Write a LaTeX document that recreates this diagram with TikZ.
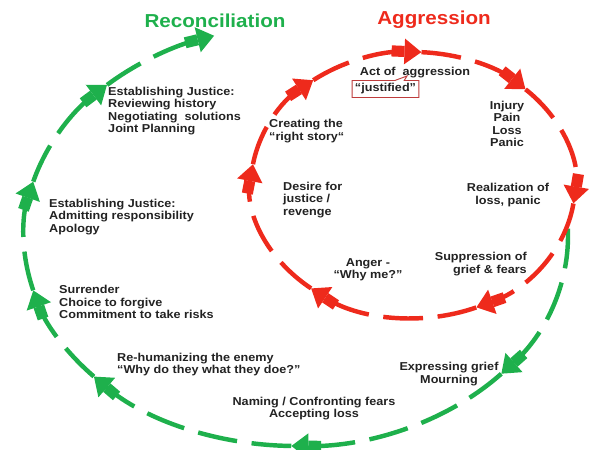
\documentclass[tikz,border=0pt]{standalone}
\usepackage{fontspec}
\setmainfont{Liberation Sans}[FakeStretch=1.1]
\usetikzlibrary{arrows.meta,calc,shapes.callouts}
\definecolor{aggred}{RGB}{238,42,28}
\definecolor{recgreen}{RGB}{30,176,76}
\definecolor{ink}{RGB}{34,34,34}
\definecolor{boxred}{RGB}{190,60,60}

\begin{document}
\begin{tikzpicture}[x=0.03cm,y=0.03cm,
    cycleline/.style={line width=3.8pt, dash pattern=on 34pt off 12.5pt,
      -{Rectangle[length=11pt,width=9.5pt]Triangle[length=14.5pt,width=21pt]}},
    txt/.style={font=\bfseries\fontsize{9.8}{10.5}\selectfont, text=ink, inner sep=0pt},
    heading/.style={font=\bfseries\fontsize{16}{16}\selectfont, inner sep=0pt}]
        \useasboundingbox (0,0) rectangle (589,450);
        % centres
        \coordinate (R) at (413,265);
        \coordinate (G) at (296,214);
        % arrow tips, aggression
        \coordinate (r1) at ($(R)+(128:162 and 133)$);
        \coordinate (r2) at ($(R)+(87:162 and 133)$);
        \coordinate (r3) at ($(R)+(46:162 and 133)$);
        \coordinate (r4) at ($(R)+(-8:162 and 133)$);
        \coordinate (r5) at ($(R)+(-67:162 and 133)$);
        \coordinate (r6) at ($(R)+(-129:162 and 133)$);
        \coordinate (r7) at ($(R)+(171:162 and 133)$);
        % arrow tips, reconciliation
        \coordinate (g0) at ($(G)+(2:272 and 210)$);
        \coordinate (g1) at ($(G)+(-41:272 and 210)$);
        \coordinate (g2) at ($(G)+(-91:272 and 210)$);
        \coordinate (g3) at ($(G)+(-138:272 and 210)$);
        \coordinate (g4) at ($(G)+(-165:272 and 210)$);
        \coordinate (g5) at ($(G)+(-195:272 and 210)$);
        \coordinate (g6) at ($(G)+(-226:272 and 210)$);
        % green spiral
        \draw[cycleline, recgreen] (g0) arc[start angle=2, end angle=-41, x radius=272, y radius=210];
        \draw[cycleline, recgreen] (g1) arc[start angle=-41, end angle=-91, x radius=272, y radius=210];
        \draw[cycleline, recgreen] (g2) arc[start angle=-91, end angle=-138, x radius=272, y radius=210];
        \draw[cycleline, recgreen] (g3) arc[start angle=-138, end angle=-165, x radius=272, y radius=210];
        \draw[cycleline, recgreen] (g4) arc[start angle=-165, end angle=-195, x radius=272, y radius=210];
        \draw[cycleline, recgreen] (g5) arc[start angle=-195, end angle=-226, x radius=272, y radius=210];
        \draw[cycleline, recgreen] (g6) arc[start angle=-226, end angle=-252.5, x radius=272, y radius=210];
        % red circle
        \draw[cycleline, aggred] (r1) arc[start angle=128, end angle=87, x radius=162, y radius=133];
        \draw[cycleline, aggred] (r2) arc[start angle=87, end angle=46, x radius=162, y radius=133];
        \draw[cycleline, aggred] (r3) arc[start angle=46, end angle=-8, x radius=162, y radius=133];
        \draw[cycleline, aggred] (r4) arc[start angle=-8, end angle=-67, x radius=162, y radius=133];
        \draw[cycleline, aggred] (r5) arc[start angle=-67, end angle=-129, x radius=162, y radius=133];
        \draw[cycleline, aggred] (r6) arc[start angle=-129, end angle=-189, x radius=162, y radius=133];
        \draw[cycleline, aggred] (r7) arc[start angle=171, end angle=128, x radius=162, y radius=133];
        % titles
        \node[heading, text=recgreen] (rec) at (215,429) {Reconciliation};
        \node[heading, text=aggred] (agg) at (434,430) {Aggression};
        % aggression labels
        \node[txt] (act) at (415,377) {Act of~ aggression};
        \node[txt, draw=boxred, fill=white, line width=0.8pt, rectangle callout,
          callout absolute pointer={(407,374)}, callout pointer width=8pt,
          minimum width=57pt, minimum height=14.5pt] (justified) at (385.5,361) {“justified”};
        \node[txt, align=center] (injury) at (507,326) {Injury\\Pain\\Loss\\Panic};
        \node[txt, align=center] (realize) at (508,255) {Realization of\\loss, panic};
        \node[txt, align=right, anchor=east] (suppress) at (527,186) {Suppression of\\grief \& fears};
        \node[txt, align=center] (anger) at (368,180) {Anger -\\“Why me?”};
        \node[txt, align=left, anchor=west] (desire) at (283,250) {Desire for\\justice /\\revenge};
        \node[txt, align=left, anchor=west] (story) at (269,319) {Creating the\\“right story“};
        % reconciliation labels
        \node[txt, align=left, anchor=west] (review) at (108,339) {Establishing Justice:\\Reviewing history\\Negotiating~ solutions\\Joint Planning};
        \node[txt, align=left, anchor=west] (admit) at (49,233) {Establishing Justice:\\Admitting responsibility\\Apology};
        \node[txt, align=left, anchor=west] (surrender) at (59,148) {Surrender\\Choice to forgive\\Commitment to take risks};
        \node[txt, align=left, anchor=west] (humanize) at (117,85.5) {Re-humanizing the enemy\\“Why do they what they doe?"};
        \node[txt, align=center] (naming) at (314,41.5) {Naming / Confronting fears\\Accepting loss};
        \node[txt, align=center] (grief) at (449,76) {Expressing grief\\Mourning};
      \end{tikzpicture}
\end{document}
